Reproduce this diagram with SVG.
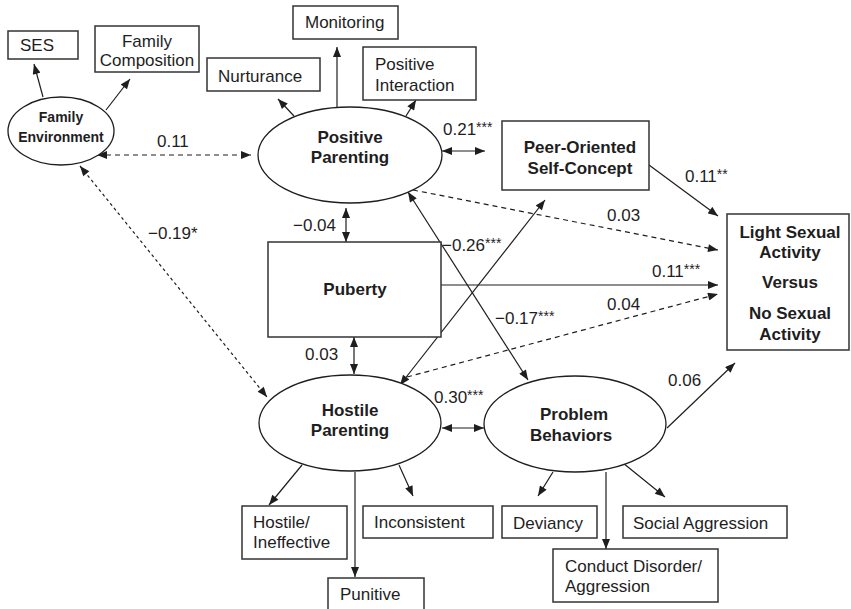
<svg xmlns="http://www.w3.org/2000/svg" width="851" height="609" viewBox="0 0 851 609">
<style>
text{font-family:"Liberation Sans",Arial,sans-serif;fill:#1e1e1e;font-size:17px}
.b{font-weight:bold}
.c{text-anchor:middle}
.fe{font-size:14px;font-weight:bold}
.s{font-size:14px}
.box{fill:#fff;stroke:#333;stroke-width:1.5}
.ell{fill:#fff;stroke:#1e1e1e;stroke-width:1.3}
.ln{fill:none;stroke:#1e1e1e;stroke-width:1.2}
.one{marker-end:url(#ah)}
.two{marker-start:url(#ah);marker-end:url(#ah)}
.dash{stroke-dasharray:5 4}
.dot{stroke-dasharray:3 3}
</style>
<defs>
<marker id="ah" viewBox="0 0 10 8" refX="10" refY="4" markerWidth="11" markerHeight="8" markerUnits="userSpaceOnUse" orient="auto-start-reverse">
<path d="M0,0 L10,4 L0,8 z" fill="#1e1e1e"/>
</marker>
</defs>
<rect width="851" height="609" fill="#fff"/>

<g id="connectors">
<line class="ln one" x1="43" y1="97" x2="34" y2="64"/>
<line class="ln one" x1="106" y1="110" x2="130" y2="79"/>
<line class="ln one" x1="294" y1="116" x2="278" y2="99"/>
<line class="ln one" x1="337" y1="107" x2="337" y2="47"/>
<line class="ln one" x1="406" y1="116" x2="416" y2="100"/>
<line class="ln two dash" x1="97" y1="155" x2="251" y2="155"/>
<line class="ln two" x1="442" y1="151" x2="485" y2="151"/>
<line class="ln one" x1="649" y1="165" x2="718" y2="216"/>
<line class="ln one dash" x1="413" y1="190" x2="718" y2="250"/>
<line class="ln two" x1="346" y1="208" x2="346" y2="242"/>
<line class="ln one" x1="441" y1="285" x2="718" y2="285"/>
<line class="ln two" x1="354" y1="337" x2="354" y2="374"/>
<line class="ln two" x1="400" y1="385" x2="545" y2="200"/>
<line class="ln one dash" x1="407" y1="377" x2="718" y2="294"/>
<line class="ln two" x1="408" y1="192" x2="528" y2="380"/>
<line class="ln two dot" x1="80" y1="166" x2="267" y2="397"/>
<line class="ln two" x1="442" y1="428" x2="484" y2="428"/>
<line class="ln one" x1="667" y1="428" x2="735" y2="363"/>
<line class="ln one" x1="302" y1="465" x2="269" y2="505"/>
<line class="ln one" x1="355" y1="472" x2="355" y2="577"/>
<line class="ln one" x1="399" y1="465" x2="413" y2="496"/>
<line class="ln one" x1="553" y1="472" x2="538" y2="496"/>
<line class="ln one" x1="606" y1="472" x2="606" y2="549"/>
<line class="ln one" x1="623" y1="463" x2="665" y2="497"/>
</g>

<g id="labels">
<text x="157" y="147">0.11</text>
<text x="443" y="135">0.21<tspan class="s" dy="-3">***</tspan></text>
<text x="685" y="182">0.11<tspan class="s" dy="-3">**</tspan></text>
<text x="607" y="221">0.03</text>
<text x="442" y="251">−0.26<tspan class="s" dy="-3">***</tspan></text>
<text x="652" y="277">0.11<tspan class="s" dy="-3">***</tspan></text>
<text x="607" y="310">0.04</text>
<text x="495" y="324">−0.17<tspan class="s" dy="-3">***</tspan></text>
<text x="293" y="231">−0.04</text>
<text x="305" y="360">0.03</text>
<text x="148" y="239">−0.19*</text>
<text x="434" y="403">0.30<tspan class="s" dy="-3">***</tspan></text>
<text x="668" y="386">0.06</text>
</g>

<g id="ses"><rect class="box" x="8" y="31" width="70" height="28"/><text x="20" y="51">SES</text></g>
<g id="family-composition"><rect class="box" x="95" y="26" width="104" height="46"/><text class="c" x="147" y="47">Family</text><text class="c" x="147" y="66">Composition</text></g>
<g id="nurturance"><rect class="box" x="207" y="58" width="113" height="33"/><text x="218" y="82">Nurturance</text></g>
<g id="monitoring"><rect class="box" x="293" y="6" width="105" height="33"/><text x="305" y="28">Monitoring</text></g>
<g id="positive-interaction"><rect class="box" x="363" y="47" width="113" height="53"/><text x="375" y="70">Positive</text><text x="375" y="91">Interaction</text></g>

<g id="family-environment"><ellipse class="ell" cx="61" cy="131" rx="53" ry="34"/><text class="c fe" x="61" y="122">Family</text><text class="c fe" x="61" y="142">Environment</text></g>
<g id="positive-parenting"><ellipse class="ell" cx="350" cy="155" rx="92" ry="48"/><text class="c b" x="350" y="143">Positive</text><text class="c b" x="350" y="163">Parenting</text></g>
<g id="peer-oriented"><rect class="box" x="502" y="121" width="147" height="69"/><text class="c b" x="580" y="153">Peer-Oriented</text><text class="c b" x="580" y="174">Self-Concept</text></g>
<g id="light-sexual-activity"><rect class="box" x="727" y="214" width="122" height="136"/><text class="c b" x="790" y="238">Light Sexual</text><text class="c b" x="790" y="258">Activity</text><text class="c b" x="790" y="288">Versus</text><text class="c b" x="790" y="319">No Sexual</text><text class="c b" x="790" y="340">Activity</text></g>
<g id="puberty"><rect class="box" x="268" y="242" width="173" height="95"/><text class="c b" x="355" y="295">Puberty</text></g>
<g id="hostile-parenting"><ellipse class="ell" cx="350" cy="423" rx="91" ry="48"/><text class="c b" x="350" y="416">Hostile</text><text class="c b" x="350" y="436">Parenting</text></g>
<g id="problem-behaviors"><ellipse class="ell" cx="575" cy="424" rx="91" ry="48"/><text class="c b" x="574" y="420">Problem</text><text class="c b" x="571" y="441">Behaviors</text></g>

<g id="hostile-ineffective"><rect class="box" x="242" y="506" width="105" height="53"/><text x="253" y="528">Hostile/</text><text x="253" y="548">Ineffective</text></g>
<g id="inconsistent"><rect class="box" x="363" y="506" width="130" height="32"/><text x="374" y="528">Inconsistent</text></g>
<g id="punitive"><rect class="box" x="328" y="578" width="96" height="40"/><text x="340" y="600">Punitive</text></g>
<g id="deviancy"><rect class="box" x="502" y="506" width="95" height="32"/><text x="513" y="529">Deviancy</text></g>
<g id="social-aggression"><rect class="box" x="623" y="506" width="164" height="32"/><text x="633" y="529">Social Aggression</text></g>
<g id="conduct-disorder"><rect class="box" x="553" y="549" width="165" height="53"/><text x="565" y="572">Conduct Disorder/</text><text x="565" y="592">Aggression</text></g>
</svg>
